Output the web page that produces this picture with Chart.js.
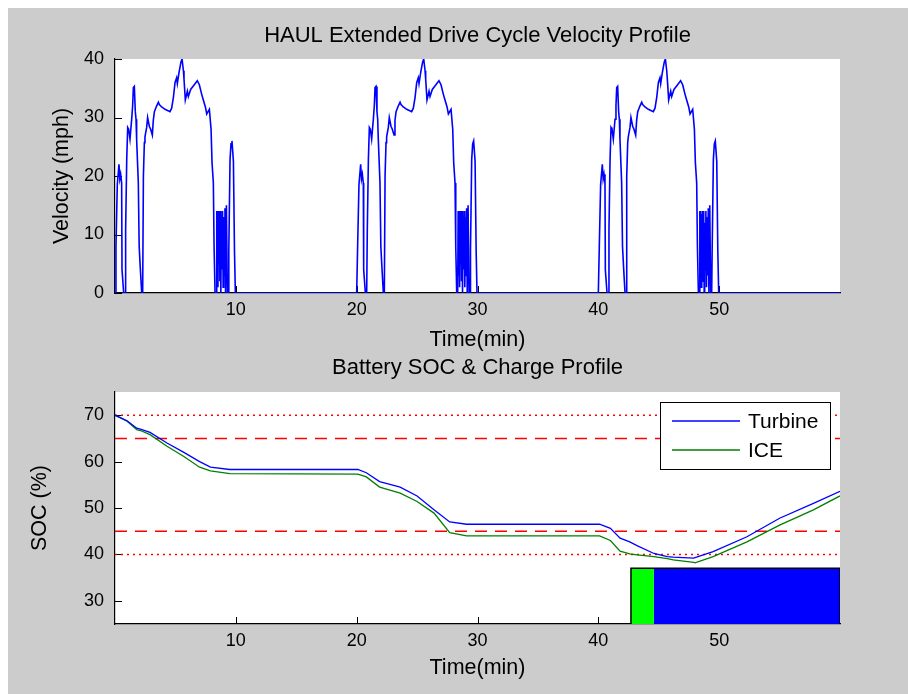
<!DOCTYPE html>
<html>
<head>
<meta charset="utf-8">
<title>HAUL Extended Drive Cycle</title>
<script src="https://cdn.jsdelivr.net/npm/chart.js@4.4.0/dist/chart.umd.min.js"></script>
<style>
  html, body { margin: 0; padding: 0; background: #fff; }
  body { width: 908px; height: 694px; position: relative; overflow: hidden; }
  #figure { position: absolute; left: 8px; top: 8px; right: 0; bottom: 0; background: #cccccc; }
  .plot { position: absolute; left: 0; width: 908px; }
  #velocity-wrap { top: 0; height: 360px; }
  #soc-wrap { top: 345px; height: 349px; }
</style>
</head>
<body>
<div id="figure"></div>
<div class="plot" id="velocity-wrap"><canvas id="velocity-chart"></canvas></div>
<div class="plot" id="soc-wrap"><canvas id="soc-chart"></canvas></div>
<script>
// ---- data ----

// one HAUL drive cycle (minutes from cycle start, mph); the extended cycle repeats it
const cycleStarts = [0, 20, 40];
const cycleTime = [
  0.00, 0.08, 0.19, 0.33, 0.40, 0.47, 0.55, 0.58, 0.72,
  0.83, 0.88, 0.97, 1.05, 1.13, 1.24, 1.38, 1.46, 1.52, 1.60, 1.68, 1.74, 1.79, 1.93, 2.00, 2.10, 2.21,
  2.29, 2.35, 2.43, 2.48, 2.62, 2.70, 2.84, 2.95, 3.09, 3.17, 3.26, 3.45, 3.59, 3.67, 3.86, 4.14, 4.55, 4.69,
  4.83, 4.97, 5.10, 5.16, 5.30, 5.46, 5.55, 5.66, 5.71, 5.82, 5.99, 6.07, 6.26, 6.48, 6.81, 6.98, 7.17, 7.31,
  7.48, 7.59, 7.81, 7.95, 8.03, 8.14, 8.20, 8.28,
  8.36, 8.40, 8.44, 8.48, 8.52, 8.56, 8.60, 8.64, 8.68, 8.72, 8.76, 8.80, 8.85, 8.90, 8.95, 9.00, 9.05, 9.10, 9.15, 9.22, 9.30,
  9.38, 9.42, 9.52, 9.60, 9.68, 9.80, 9.89, 9.96
];
const cycleSpeed = [
  0, 8, 18.5, 22, 19.5, 20.3, 18.8, 4, 0,
  0, 10.8, 22.8, 28.3, 28, 26.3, 29.7, 32, 35.1, 35.3, 31, 29.7, 26.3, 18.8, 8, 4, 0,
  0, 20, 25.7, 26.7, 28.3, 30, 28.5, 28, 27, 29.5, 31, 32, 32.6, 32.2, 31.8, 31.4, 31, 31.6,
  33.4, 36, 36.8, 35.8, 37.7, 39.5, 40, 38, 36.6, 33, 34.5, 33.6, 34.8, 35.4, 36.3, 35.6, 34, 33,
  31.8, 30.6, 31.4, 28, 22.3, 18.8, 8, 0,
  0, 14, 3, 14, 1, 13.5, 5, 14, 2, 14, 0, 12, 4, 14, 1, 13, 3, 14.5, 0, 15, 0,
  0, 7.3, 22.8, 25.5, 26, 22.5, 7, 0
];
const driveEnd = 60;

// battery state of charge (minutes, %)
const socTime = [0, 1.0, 1.8, 2.1, 2.9, 4.3, 5.7, 7.0, 7.9, 9.5, 20.1, 20.8, 21.9, 23.6, 25.0, 26.4, 27.7, 29.1,
  40.1, 41.0, 41.8, 42.6, 43.2, 44.6, 45.7, 46.2, 47.9, 48.0, 49.5, 52.3, 55.0, 57.8, 60];
const turbineSoc = [70, 68.8, 67.2, 67.0, 66.3, 64, 62, 60, 58.8, 58.3, 58.3, 57.6, 55.7, 54.5, 52.6, 49.6, 47.0, 46.5,
  46.5, 45.6, 43.5, 42.7, 41.9, 40.2, 39.5, 39.4, 39.2, 39.3, 40.6, 43.8, 47.8, 51.0, 53.6];
const iceSoc = [70, 68.7, 66.9, 66.7, 65.8, 63.3, 61.1, 58.8, 58.0, 57.4, 57.3, 56.7, 54.5, 53.2, 51.4, 48.9, 44.7, 44.0,
  44.0, 43.0, 40.7, 40.1, 39.9, 39.5, 39.1, 38.8, 38.3, 38.2, 39.5, 42.7, 46.3, 49.6, 52.6];

// SOC limit lines
const socLimitsDotted = [70, 40];
const socLimitsDashed = [65, 45];

// charge source bars: [start, end] minutes, top level in %
const iceChargeSpan = [42.7, 44.6];
const turbineChargeSpan = [44.6, 60];
const chargeBarTop = 37;

// axes
const timeTicks = [10, 20, 30, 40, 50];
const velocityTicks = [0, 10, 20, 30, 40];
const socTicks = [30, 40, 50, 60, 70];

// ---- helpers ----
const FONT = '"Liberation Sans", Arial, sans-serif';

const velocityPoints = [];
cycleStarts.forEach(start => {
  cycleTime.forEach((t, i) => velocityPoints.push({ x: start + t, y: cycleSpeed[i] }));
});
velocityPoints.push({ x: driveEnd, y: 0 });

function pairs(xs, ys) {
  return xs.map((x, i) => ({ x: x, y: ys[i] }));
}

function limitLine(level, dash) {
  return {
    data: [{ x: 0, y: level }, { x: 60, y: level }],
    borderColor: '#ff0000',
    borderWidth: 1.5,
    borderDash: dash,
    pointRadius: 0,
    fill: false
  };
}

// white plot face
const plotFace = {
  id: 'plotFace',
  beforeDraw(chart) {
    const { ctx, chartArea: a } = chart;
    ctx.save();
    ctx.fillStyle = '#ffffff';
    ctx.fillRect(a.left, a.top, a.right - a.left, a.bottom - a.top);
    ctx.restore();
  }
};

// MATLAB style tick marks pointing into the plot
const innerTicks = {
  id: 'innerTicks',
  beforeDatasetsDraw(chart) {
    const { ctx, chartArea: a, scales } = chart;
    ctx.save();
    ctx.strokeStyle = '#000';
    ctx.lineWidth = 1;
    scales.x.ticks.forEach(t => {
      const px = Math.round(scales.x.getPixelForValue(t.value)) + 0.5;
      ctx.beginPath();
      ctx.moveTo(px, a.bottom);
      ctx.lineTo(px, a.bottom - 7);
      ctx.stroke();
    });
    scales.y.ticks.forEach(t => {
      const py = Math.round(scales.y.getPixelForValue(t.value)) + 0.5;
      ctx.beginPath();
      ctx.moveTo(a.left, py);
      ctx.lineTo(a.left + 7, py);
      ctx.stroke();
    });
    ctx.restore();
  }
};

// boxed legend in the upper right corner of the plot
const boxLegend = {
  id: 'boxLegend',
  afterDraw(chart) {
    const items = chart.data.datasets.filter(d => d.inLegend);
    if (!items.length) return;
    const { ctx, chartArea: a } = chart;
    const w = 170, h = 67;
    const left = a.right - 10 - w, top = a.top + 10;
    ctx.save();
    ctx.fillStyle = '#fff';
    ctx.fillRect(left, top, w, h);
    ctx.strokeStyle = '#000';
    ctx.lineWidth = 1;
    ctx.strokeRect(left + 0.5, top + 0.5, w, h);
    ctx.font = '21px ' + FONT;
    ctx.textBaseline = 'middle';
    ctx.fillStyle = '#000';
    items.forEach((d, i) => {
      const y = top + 19 + i * 29;
      ctx.strokeStyle = d.borderColor;
      ctx.lineWidth = d.borderWidth;
      ctx.beginPath();
      ctx.moveTo(left + 12, y);
      ctx.lineTo(left + 80, y);
      ctx.stroke();
      ctx.fillText(d.label, left + 88, y + 1);
    });
    ctx.restore();
  }
};

function axes(yMin, yMax, yTicks, yTitle, yTitlePad, xHeight, xTitlePad) {
  return {
    x: {
      type: 'linear',
      min: 0,
      max: 60,
      afterBuildTicks: s => { s.ticks = timeTicks.map(v => ({ value: v })); },
      afterFit: s => { s.height = xHeight; },
      grid: { display: true, drawOnChartArea: false, drawTicks: false },
      border: { display: true, color: '#000', width: 1.2 },
      ticks: { color: '#000', font: { family: FONT, size: 18 }, padding: 6, maxRotation: 0 },
      title: { display: true, text: 'Time(min)', color: '#000', font: { family: FONT, size: 21.5 },
        padding: { top: 0, bottom: xTitlePad } }
    },
    y: {
      type: 'linear',
      min: yMin,
      max: yMax,
      afterBuildTicks: s => { s.ticks = yTicks.map(v => ({ value: v })); },
      afterFit: s => { s.width = 115; },
      grid: { display: true, drawOnChartArea: false, drawTicks: false },
      border: { display: true, color: '#000', width: 1.2 },
      ticks: { color: '#000', font: { family: FONT, size: 18 }, padding: 11 },
      title: { display: true, text: yTitle, color: '#000', font: { family: FONT, size: 21.5 },
        padding: { top: yTitlePad, bottom: 0 } }
    }
  };
}

function baseOptions(title, titlePad, scales) {
  return {
    responsive: true,
    maintainAspectRatio: false,
    animation: false,
    devicePixelRatio: 1,
    layout: { padding: { left: 0, right: 68, top: 0, bottom: 0 } },
    scales: scales,
    plugins: {
      legend: { display: false },
      tooltip: { enabled: false },
      title: {
        display: true,
        fullSize: false,
        text: title,
        color: '#000',
        font: { family: FONT, size: 22, weight: 'normal' },
        padding: titlePad
      }
    }
  };
}

// ---- velocity profile ----
new Chart(document.getElementById('velocity-chart'), {
  type: 'line',
  data: {
    datasets: [{
      label: 'Velocity',
      data: velocityPoints,
      borderColor: '#0000ff',
      borderWidth: 1.6,
      pointRadius: 0,
      tension: 0
    }]
  },
  options: baseOptions('HAUL Extended Drive Cycle Velocity Profile', { top: 23, bottom: 9.6 },
    axes(0, 40, velocityTicks, 'Velocity (mph)', 49, 67, 7)),
  plugins: [plotFace, innerTicks]
});

// ---- battery SOC & charge profile ----
const socDatasets = [
  { label: 'Turbine', inLegend: true, data: pairs(socTime, turbineSoc), borderColor: '#0000ff', borderWidth: 1.3, pointRadius: 0 },
  { label: 'ICE', inLegend: true, data: pairs(socTime, iceSoc), borderColor: '#008000', borderWidth: 1.3, pointRadius: 0 }
];
socLimitsDotted.forEach(v => socDatasets.push(limitLine(v, [2, 4])));
socLimitsDashed.forEach(v => socDatasets.push(limitLine(v, [12, 8])));
socDatasets.push({
  data: [{ x: iceChargeSpan[0], y: 25 }, { x: iceChargeSpan[0], y: chargeBarTop }, { x: iceChargeSpan[1], y: chargeBarTop }],
  borderColor: '#000', borderWidth: 1.5, backgroundColor: '#00ff00', fill: 'start', pointRadius: 0
});
socDatasets.push({
  data: [{ x: turbineChargeSpan[0], y: chargeBarTop }, { x: turbineChargeSpan[1], y: chargeBarTop }, { x: turbineChargeSpan[1], y: 25 }],
  borderColor: '#000', borderWidth: 1.5, backgroundColor: '#0000ff', fill: 'start', pointRadius: 0
});

new Chart(document.getElementById('soc-chart'), {
  type: 'line',
  data: { datasets: socDatasets },
  options: baseOptions('Battery SOC & Charge Profile', { top: 9.4, bottom: 11.2 },
    axes(25, 75, socTicks, 'SOC (%)', 27, 70, 13.4)),
  plugins: [plotFace, innerTicks, boxLegend]
});
</script>
</body>
</html>
